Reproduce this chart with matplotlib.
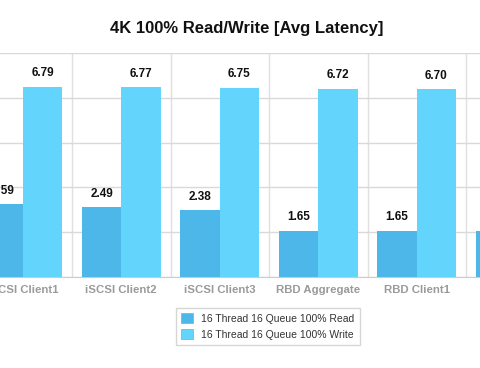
import numpy as np
import matplotlib.pyplot as plt

categories = ["iSCSI Client1", "iSCSI Client2", "iSCSI Client3",
              "RBD Aggregate", "RBD Client1", "RBD Client2"]
read_lat = [2.59, 2.49, 2.38, 1.65, 1.65, 1.65]
write_lat = [6.79, 6.77, 6.75, 6.72, 6.70, 6.68]
series = ["16 Thread 16 Queue 100% Read", "16 Thread 16 Queue 100% Write"]
yticks = [0, 1.6, 3.2, 4.8, 6.4, 8.0]

plt.rcParams['font.family'] = ['Liberation Sans', 'DejaVu Sans']

W, H = 480, 368
fig = plt.figure(figsize=(W / 100, H / 100), dpi=100)
# the chart is a crop: axes run past both edges of the picture
ax = fig.add_axes([-26.5 / W, (H - 277) / H, 591 / W, 224 / H])

x = np.arange(len(categories))
bw = 0.4
b1 = ax.bar(x - bw / 2, read_lat, bw, color='#4db7ea', label=series[0], zorder=3)
b2 = ax.bar(x + bw / 2, write_lat, bw, color='#63d5fd', label=series[1], zorder=3)

for bars in (b1, b2):
    for b in bars:
        ax.annotate(f"{b.get_height():.2f}", (b.get_x() + b.get_width() / 2, b.get_height()),
                    xytext=(0, 5.5), textcoords='offset points', ha='center', va='bottom',
                    fontsize=8.5, fontweight='bold', color='#111111')

ax.set_xlim(-0.5, len(categories) - 0.5)
ax.set_ylim(0, 8.0)
ax.set_yticks(yticks)
ax.set_xticks(x)
ax.set_xticklabels(categories, fontsize=8.2, fontweight='bold', color='#9a9a9a')
ax.set_xticks(np.arange(len(categories) + 1) - 0.5, minor=True)
ax.tick_params(axis='x', which='both', length=0, pad=6)
ax.tick_params(axis='y', length=0, labelleft=False)
ax.grid(axis='y', color='#d9d9d9', lw=1, zorder=0)
ax.grid(axis='x', which='minor', color='#e0e0e0', lw=1, zorder=0)
for s in ax.spines.values():
    s.set_visible(False)
ax.spines['bottom'].set_visible(True)
ax.spines['bottom'].set_color('#cccccc')

fig.text(247 / W, 1 - 28 / H, "4K 100% Read/Write [Avg Latency]", ha='center', va='center',
         fontsize=12, fontweight='bold', color='#111111')

leg = fig.legend(loc='center', bbox_to_anchor=(268 / W, 1 - 326.5 / H), fontsize=7.5,
                 frameon=True, fancybox=False, edgecolor='#cccccc', handlelength=1.1,
                 handleheight=1.1, labelcolor='#333333', borderpad=0.5, labelspacing=0.5)
for p in leg.get_patches():
    p.set_edgecolor('#aaaaaa')
    p.set_linewidth(0.6)

fig.savefig('out.png', dpi=100)
